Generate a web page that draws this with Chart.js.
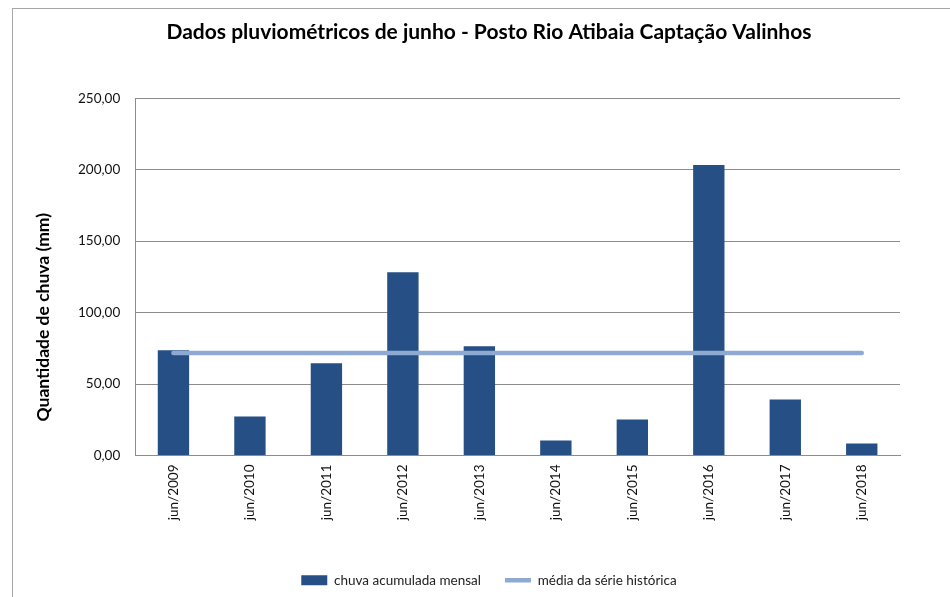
<!DOCTYPE html>
<html>
<head>
<meta charset="utf-8">
<script src="https://cdn.jsdelivr.net/npm/chart.js@4"></script>
<style>
  html, body { margin: 0; padding: 0; background: #fff; }
  #wrap { width: 950px; height: 597px; }
</style>
</head>
<body>
<div id="wrap"><canvas id="chart"></canvas></div>
<script>
// dados
const categories = ['jun/2009', 'jun/2010', 'jun/2011', 'jun/2012', 'jun/2013',
  'jun/2014', 'jun/2015', 'jun/2016', 'jun/2017', 'jun/2018']
const chuvaMensal = [73.6, 27.3, 64.5, 128.3, 76.4, 10.5, 25.2, 203.3, 39.2, 8.4]
const mediaHistorica = [71.7, 71.7, 71.7, 71.7, 71.7, 71.7, 71.7, 71.7, 71.7, 71.7]
const yTicks = [0, 50, 100, 150, 200, 250]

const FONT = 'Lato, "Open Sans", sans-serif'

// moldura cinza ao redor do gráfico
const frame = {
  id: 'frame',
  afterDraw(chart) {
    const ctx = chart.ctx
    ctx.save()
    ctx.strokeStyle = '#a6a6a6'
    ctx.lineWidth = 1
    ctx.strokeRect(12.5, 8.5, chart.width + 20, chart.height + 20)
    ctx.restore()
  }
}

const fmt = v => v.toFixed(2).replace('.', ',')

new Chart(document.getElementById('chart'), {
  data: {
    labels: categories,
    datasets: [
      {
        type: 'line',
        label: 'média da série histórica',
        data: mediaHistorica,
        borderColor: '#8eaad2',
        backgroundColor: '#8eaad2',
        borderWidth: 4.5,
        borderCapStyle: 'round',
        pointRadius: 0,
        pointStyle: 'line',
        order: 0
      },
      {
        type: 'bar',
        label: 'chuva acumulada mensal',
        data: chuvaMensal,
        backgroundColor: '#264f85',
        borderWidth: 0,
        pointStyle: 'rect',
        categoryPercentage: 1,
        barPercentage: 0.41,
        order: 1
      }
    ]
  },
  options: {
    responsive: true,
    maintainAspectRatio: false,
    animation: false,
    layout: { padding: { left: 28, right: 0, top: 0, bottom: 0 } },
    plugins: {
      title: {
        display: true,
        text: 'Dados pluviométricos de junho - Posto Rio Atibaia Captação Valinhos',
        color: '#000',
        font: { family: FONT, size: 21, weight: 'bold' },
        padding: { top: 20, bottom: 53 }
      },
      legend: {
        position: 'bottom',
        reverse: true,
        labels: {
          usePointStyle: true,
          pointStyleWidth: 26,
          boxHeight: 10,
          padding: 24,
          color: '#222',
          font: { family: FONT, size: 13.5 }
        }
      },
      tooltip: { enabled: false }
    },
    scales: {
      x: {
        offset: true,
        grid: { display: false, drawTicks: false },
        border: { display: true, color: '#8c8c8c', width: 1 },
        ticks: {
          minRotation: 90,
          maxRotation: 90,
          padding: 9,
          color: '#111',
          font: { family: FONT, size: 13.5 }
        },
        afterFit(s) { s.height = 94 }
      },
      y: {
        min: 0,
        max: 250,
        afterBuildTicks(s) { s.ticks = yTicks.map(v => ({ value: v })) },
        grid: { color: '#8c8c8c', drawTicks: false },
        border: { display: true, color: '#8c8c8c' },
        ticks: {
          padding: 15,
          color: '#111',
          font: { family: FONT, size: 13.5 },
          callback: v => fmt(v)
        },
        title: {
          display: true,
          // espaços no fim empurram o texto para baixo, como no original
          text: 'Quantidade de chuva (mm)' + ' '.repeat(19),
          color: '#000',
          font: { family: FONT, size: 17.5, weight: 'bold' },
          padding: { top: 5, bottom: 9 }
        }
      },
      yRight: {
        position: 'right',
        display: true,
        grid: { drawOnChartArea: false, drawTicks: false },
        border: { display: false },
        ticks: { display: false },
        afterFit(s) { s.width = 50 }
      }
    }
  },
  plugins: [frame]
})
</script>
</body>
</html>
